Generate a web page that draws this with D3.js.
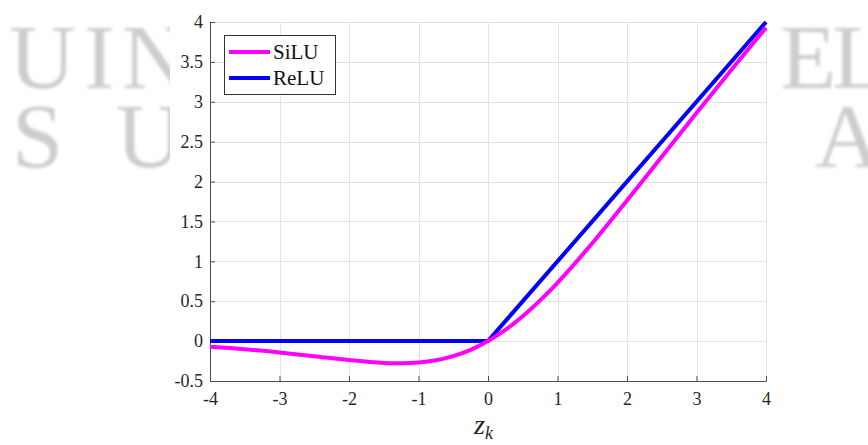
<!DOCTYPE html>
<html>
<head>
<meta charset="utf-8">
<script src="https://cdn.jsdelivr.net/npm/d3@7"></script>
<style>
  body { margin: 0; background: #fff; }
  svg { display: block; }
</style>
</head>
<body>
<svg id="chart" width="868" height="445"></svg>
<script>
// values
var zVals    = [-4, -3.5, -3, -2.5, -2, -1.5, -1.25, -1, -0.75, -0.5, -0.25, 0, 0.25, 0.5, 0.75, 1, 1.5, 2, 2.5, 3, 3.5, 4];
var siluVals = [-0.072, -0.102, -0.142, -0.19, -0.238, -0.274, -0.278, -0.269, -0.241, -0.189, -0.11, 0, 0.14, 0.311, 0.51, 0.731, 1.226, 1.762, 2.31, 2.858, 3.398, 3.928];
var reluZ    = [-4, 0, 4];
var reluVals = [0, 0, 4];
var xTicks = [-4, -3, -2, -1, 0, 1, 2, 3, 4];
var yTicks = [-0.5, 0, 0.5, 1, 1.5, 2, 2.5, 3, 3.5, 4];
var seriesNames  = ["SiLU", "ReLU"];
var seriesColors = ["#ff00ff", "#0000ff"];

var svg = d3.select("#chart");
var font = "'Liberation Serif', 'DejaVu Serif', serif";

// blurred watermark letters behind the figure
var defs = svg.append("defs");
defs.append("filter").attr("id", "blur")
	.append("feGaussianBlur").attr("stdDeviation", 1.8);

var wm = svg.append("g").attr("filter", "url(#blur)")
	.attr("fill", "#cdcdcd").attr("font-family", font).attr("font-size", 92);
[["U", 9, 88], ["I", 84, 88], ["N", 122, 88], ["S", 12, 167], ["U", 116, 167],
 ["E", 780, 88], ["L", 832, 88], ["A", 815, 167]].forEach(function(d) {
	wm.append("text").attr("x", d[1]).attr("y", d[2]).text(d[0]);
});

// white figure background
svg.append("rect").attr("x", 170).attr("y", 0).attr("width", 608).attr("height", 445).attr("fill", "#fff");

var pLeft = 210, pRight = 766, pTop = 22, pBottom = 381;

var x = d3.scaleLinear().domain([-4, 4]).range([pLeft, pRight]);
var y = d3.scaleLinear().domain([-0.5, 4]).range([pBottom, pTop]);

// grid
var grid = svg.append("g").attr("stroke", "#e3e3e3").attr("stroke-width", 1);
grid.selectAll(".gx").data(xTicks).enter().append("line")
	.attr("x1", function(d) { return Math.round(x(d)) + 0.5; })
	.attr("x2", function(d) { return Math.round(x(d)) + 0.5; })
	.attr("y1", pTop).attr("y2", pBottom);
grid.selectAll(".gy").data(yTicks).enter().append("line")
	.attr("y1", function(d) { return Math.round(y(d)) + 0.5; })
	.attr("y2", function(d) { return Math.round(y(d)) + 0.5; })
	.attr("x1", pLeft).attr("x2", pRight);

// axes
var xAxis = d3.axisBottom(x).tickValues(xTicks).tickSizeInner(-5).tickSizeOuter(0).tickPadding(11)
	.tickFormat(function(d) { return d; });
var yAxis = d3.axisLeft(y).tickValues(yTicks).tickSizeInner(-5).tickSizeOuter(0).tickPadding(7)
	.tickFormat(function(d) { return d; });

var gx = svg.append("g").attr("transform", "translate(0," + pBottom + ")").call(xAxis);
var gy = svg.append("g").attr("transform", "translate(" + pLeft + ",0)").call(yAxis);
[gx, gy].forEach(function(g) {
	g.select(".domain").attr("stroke", "#4d4d4d");
	g.selectAll(".tick line").attr("stroke", "#4d4d4d");
	g.selectAll("text").attr("fill", "#262626").attr("font-family", font).attr("font-size", 18);
});

// lines
var line = d3.line()
	.x(function(d) { return x(d[0]); })
	.y(function(d) { return y(d[1]); });

svg.append("path")
	.datum(d3.zip(reluZ, reluVals))
	.attr("fill", "none").attr("stroke", seriesColors[1]).attr("stroke-width", 4)
	.attr("d", line);

svg.append("path")
	.datum(d3.zip(zVals, siluVals))
	.attr("fill", "none").attr("stroke", seriesColors[0]).attr("stroke-width", 4)
	.attr("d", line.curve(d3.curveCatmullRom));

// x label
var lab = svg.append("text").attr("x", x(0) - 14).attr("y", 434)
	.attr("font-family", font).attr("font-style", "italic").attr("font-size", 28).attr("fill", "#262626");
lab.append("tspan").text("z");
lab.append("tspan").attr("font-size", 18).attr("dy", 5).text("k");

// legend
var lg = svg.append("g");
lg.append("rect").attr("x", 224.5).attr("y", 35.5).attr("width", 111).attr("height", 59)
	.attr("fill", "#fff").attr("stroke", "#333").attr("stroke-width", 1);
seriesNames.forEach(function(name, i) {
	var yy = 52 + i * 26;
	lg.append("line").attr("x1", 229).attr("x2", 270).attr("y1", yy).attr("y2", yy)
		.attr("stroke", seriesColors[i]).attr("stroke-width", 4);
	lg.append("text").attr("x", 273).attr("y", yy + 7)
		.attr("font-family", font).attr("font-size", 21).attr("fill", "#111").text(name);
});
</script>
</body>
</html>
